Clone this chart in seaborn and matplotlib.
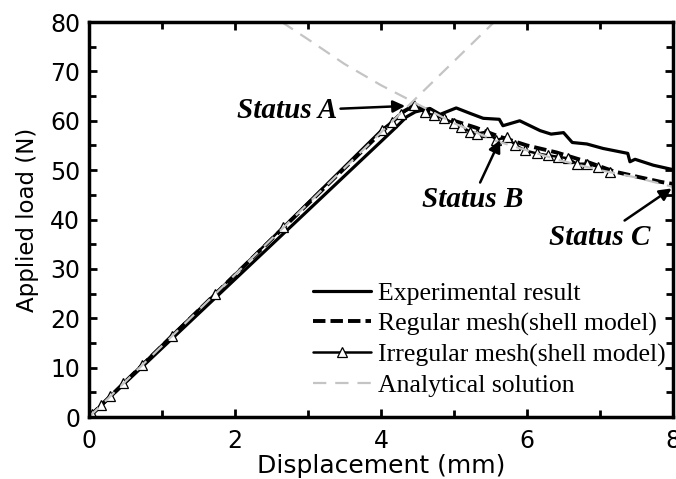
import numpy as np
import pandas as pd
import matplotlib
matplotlib.use("Agg")
import matplotlib.pyplot as plt
import seaborn as sns

# --- data ---
exp_x = [0.0, 4.0, 4.2, 4.35, 4.47, 4.67, 4.81, 5.03, 5.22, 5.40, 5.62, 5.67, 5.90,
         6.18, 6.33, 6.50, 6.62, 6.82, 7.04, 7.38, 7.41, 7.48, 7.73, 8.0]
exp_y = [0.0, 55.8, 58.6, 60.8, 61.8, 62.5, 61.3, 62.6, 61.5, 60.5, 60.3, 59.0, 60.0,
         58.0, 57.3, 57.6, 55.6, 55.3, 54.4, 53.4, 51.7, 52.2, 51.0, 50.1]

reg_x = [0.0, 4.0, 4.3, 4.44, 4.6, 5.0, 5.3, 5.6, 6.0, 6.4, 6.8, 7.2, 7.5, 7.84, 8.0]
reg_y = [0.0, 57.6, 61.8, 63.0, 62.2, 60.0, 58.6, 56.9, 55.0, 53.6, 51.8, 49.7, 48.7, 47.6, 47.2]

irr_x = [0.02, 0.04, 0.17, 0.29, 0.47, 0.72, 1.13, 1.73, 2.66, 4.01, 4.15, 4.28, 4.45,
         4.60, 4.72, 4.86, 5.00, 5.10, 5.22, 5.31, 5.45, 5.58, 5.72, 5.84, 5.97,
         6.13, 6.29, 6.43, 6.56, 6.68, 6.82, 6.97, 7.14]
irr_y = [0.3, 0.6, 2.5, 4.2, 6.8, 10.5, 16.5, 25.0, 38.5, 58.2, 59.8, 61.4, 63.2,
         61.8, 61.1, 60.5, 59.5, 58.8, 57.8, 57.4, 57.8, 56.1, 56.7, 55.1, 54.0,
         53.4, 53.0, 52.7, 52.4, 51.3, 51.3, 50.7, 49.7]

ana_up_x = [0.0, 5.55]
ana_up_y = [0.0, 80.0]
ana_dn_x = [2.64, 3.0, 3.5, 4.0, 4.42, 5.0, 5.58, 6.0, 6.45, 7.0, 7.5, 8.0]
ana_dn_y = [80.0, 76.5, 71.5, 67.2, 64.0, 59.5, 55.9, 54.0, 52.0, 50.0, 48.5, 46.6]

labels = ["Experimental result", "Regular mesh(shell model)",
          "Irregular mesh(shell model)", "Analytical solution"]

sns.set_style("ticks", {"axes.edgecolor": "black", "xtick.color": "black",
                        "ytick.color": "black", "text.color": "black",
                        "axes.labelcolor": "black"})
plt.rcParams['font.family'] = ['DejaVu Sans']

fig = plt.figure(figsize=(6.76, 4.79), dpi=100)
ax = fig.add_axes([0.1317, 0.1294, 0.8639, 0.8246])

sns.lineplot(x=exp_x, y=exp_y, ax=ax, color="black", lw=2.3, sort=False,
             estimator=None, label=labels[0])
sns.lineplot(x=reg_x, y=reg_y, ax=ax, color="black", lw=2.8, sort=False,
             estimator=None, label=labels[1])
ax.lines[-1].set_dashes((3.2, 1.3))
sns.lineplot(x=irr_x, y=irr_y, ax=ax, color="black", lw=1.8, sort=False,
             estimator=None, marker="^", markersize=7, markerfacecolor="white",
             markeredgecolor="black", markeredgewidth=0.9, label=labels[2])
sns.lineplot(x=ana_up_x, y=ana_up_y, ax=ax, color="#c4c4c4", lw=1.6, sort=False,
             estimator=None, label=labels[3])
ax.lines[-1].set_dashes((6, 4))
sns.lineplot(x=ana_dn_x, y=ana_dn_y, ax=ax, color="#c4c4c4", lw=1.6, sort=False,
             estimator=None, legend=False)
ax.lines[-1].set_dashes((6, 4))

ax.set_xlim(0, 8)
ax.set_ylim(0, 80)
ax.set_xticks([0, 2, 4, 6, 8])
ax.set_xticks([1, 3, 5, 7], minor=True)
ax.set_yticks(range(0, 81, 10))
ax.set_yticks(range(5, 80, 10), minor=True)
ax.tick_params(which="both", direction="in", top=True, right=True, width=2,
               labelsize=17, color="black")
ax.tick_params(axis="x", which="major", pad=8.5)
ax.tick_params(axis="y", which="major", pad=6.5)
ax.tick_params(which="major", length=6)
ax.tick_params(which="minor", length=5)
for s in ax.spines.values():
    s.set_linewidth(2.5)
    s.set_color("black")
    s.set_visible(True)

ax.set_xlabel("Displacement (mm)", fontsize=18, labelpad=1)
ax.set_ylabel("Applied load (N)", fontsize=16.5, labelpad=8)

leg = ax.legend(loc="upper left", bbox_to_anchor=(0.383, 0.343), frameon=False,
                prop={"family": "Liberation Serif", "size": 18.5},
                handlelength=2.25, handletextpad=0.28, labelspacing=0.3,
                borderpad=0, borderaxespad=0)

status_font = dict(family="Liberation Serif", size=21, weight="bold",
                   style="italic")
arrow = dict(arrowstyle="-|>", color="black", lw=1.8, mutation_scale=18,
             shrinkA=0, shrinkB=0)
ax.annotate("Status A", xy=(4.33, 63.0), xytext=(3.40, 62.0), ha="right",
            va="center", arrowprops=arrow, **status_font)
ax.annotate("Status B", xy=(5.63, 56.1), xytext=(5.25, 44.1), ha="center",
            va="center", arrowprops=arrow, **status_font)
ax.annotate("Status C", xy=(7.98, 46.3), xytext=(7.0, 36.4), ha="center",
            va="center", arrowprops=arrow, **status_font)

fig.savefig("out.png", dpi=100)
